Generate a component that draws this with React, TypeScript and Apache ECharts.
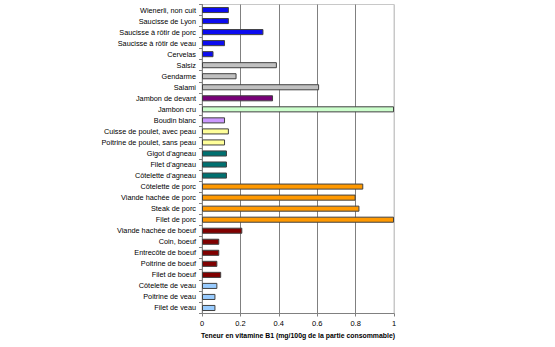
import React, { useEffect, useRef } from "react";
import * as echarts from "echarts";

const categories = [
  "Wienerli, non cuit",
  "Saucisse de Lyon",
  "Saucisse à rôtir de porc",
  "Saucisse à rôtir de veau",
  "Cervelas",
  "Salsiz",
  "Gendarme",
  "Salami",
  "Jambon de devant",
  "Jambon cru",
  "Boudin blanc",
  "Cuisse de poulet, avec peau",
  "Poitrine de poulet, sans peau",
  "Gigot d'agneau",
  "Filet d'agneau",
  "Côtelette d'agneau",
  "Côtelette de porc",
  "Viande hachée de porc",
  "Steak de porc",
  "Filet de porc",
  "Viande hachée de boeuf",
  "Coin, boeuf",
  "Entrecôte de boeuf",
  "Poitrine de boeuf",
  "Filet de boeuf",
  "Côtelette de veau",
  "Poitrine de veau",
  "Filet de veau",
];

const values = [
  0.14, 0.14, 0.32, 0.12, 0.06, 0.39, 0.18, 0.61, 0.37, 1.0, 0.12, 0.14, 0.12,
  0.13, 0.13, 0.13, 0.84, 0.8, 0.82, 1.0, 0.21, 0.09, 0.09, 0.08, 0.1, 0.08,
  0.07, 0.07,
];

const xTicks = [0, 0.2, 0.4, 0.6, 0.8, 1];

// group sizes (consecutive categories) and their colours
const groupSizes = [5, 3, 1, 1, 1, 2, 3, 4, 5, 3];
const groupColors = [
  "#0c0cf0",
  "#c0c0c0",
  "#780078",
  "#ccffcc",
  "#cc99ff",
  "#ffff99",
  "#007070",
  "#ff9900",
  "#800000",
  "#99ccff",
];

export default function App() {
  const ref = useRef<HTMLDivElement>(null);
  useEffect(() => {
    document.body.style.margin = "0";
    if (!ref.current) return;
    const chart = echarts.init(ref.current, undefined, { renderer: "svg" });
    const colorPerCat: string[] = [];
    groupSizes.forEach((n, g) => {
      for (let i = 0; i < n; i++) colorPerCat.push(groupColors[g]);
    });
    const font = "'Liberation Sans', Arial, sans-serif";
    chart.setOption({
      animation: false,
      backgroundColor: "#ffffff",
      grid: {
        left: 202,
        right: 161,
        top: 4.5,
        bottom: 33.5,
        show: true,
        borderColor: "#c8c8c8",
        borderWidth: 1,
      },
      xAxis: {
        type: "value",
        min: 0,
        max: 1,
        interval: 0.2,
        name: "Teneur en vitamine B1 (mg/100g de la partie consommable)",
        nameLocation: "middle",
        nameGap: 17,
        nameTextStyle: {
          fontFamily: font,
          fontSize: 6.9,
          fontWeight: "bold",
          color: "#000",
        },
        axisLine: { show: true, lineStyle: { color: "#808080", width: 1 } },
        axisTick: { show: true, length: 3, lineStyle: { color: "#808080" } },
        axisLabel: {
          fontFamily: font,
          fontSize: 7.5,
          color: "#000",
          margin: 6,
          formatter: (v: number) => {
            const t = xTicks.find((x) => Math.abs(x - v) < 1e-9);
            return t === undefined ? "" : String(t);
          },
        },
        splitLine: {
          show: true,
          lineStyle: {
            color: ["#808080", "#808080", "#808080", "#808080", "#808080", "#c8c8c8"],
            width: 1,
          },
        },
      },
      yAxis: {
        type: "category",
        data: categories,
        inverse: true,
        axisLine: { show: true, lineStyle: { color: "#808080", width: 1 } },
        axisTick: { show: true, length: 3, lineStyle: { color: "#808080" } },
        axisLabel: {
          fontFamily: font,
          fontSize: 7.3,
          color: "#000",
          margin: 6,
        },
        splitLine: { show: false },
      },
      series: [
        {
          type: "bar",
          data: values.map((v, i) => ({
            value: v,
            itemStyle: {
              color: colorPerCat[i],
              borderColor: "#404040",
              borderWidth: 1,
            },
          })),
          barCategoryGap: "45%",
        },
      ],
    });
    return () => chart.dispose();
  }, []);
  return <div ref={ref} style={{ width: 555, height: 347 }} />;
}
